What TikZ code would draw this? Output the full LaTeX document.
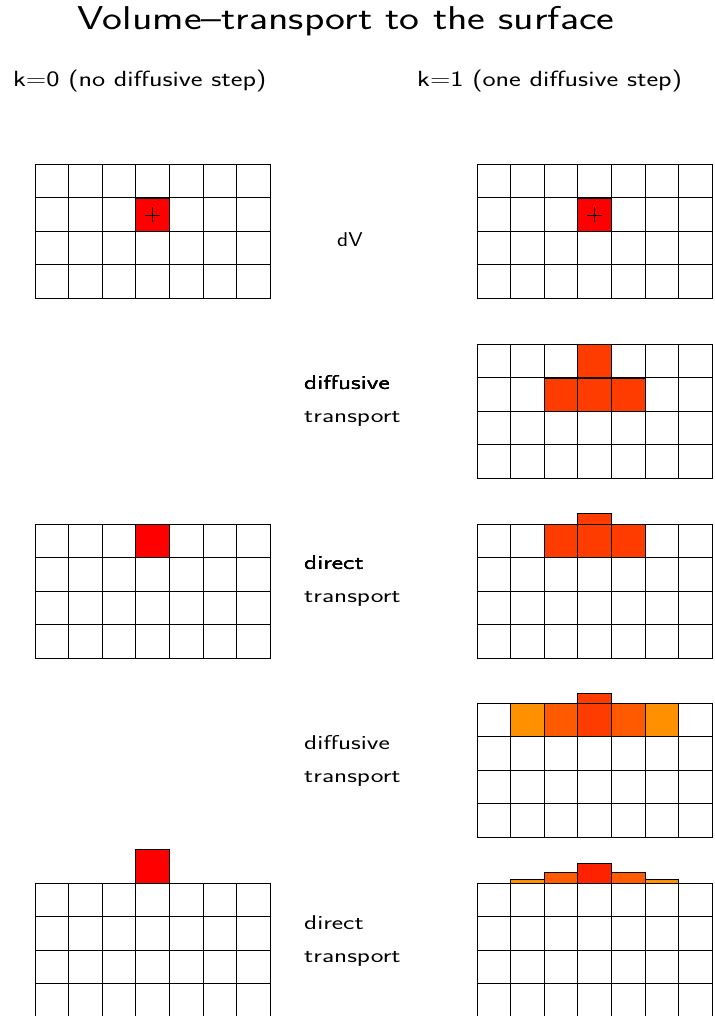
\documentclass[tikz,border=0pt]{standalone}
\usepackage{tikz}
\usetikzlibrary{positioning}

\definecolor{dvred}{HTML}{FF0000}
\definecolor{spreadred}{HTML}{FF3C00}
\definecolor{midorange}{HTML}{FF5A00}
\definecolor{lightorange}{HTML}{FF9000}
\definecolor{surfred}{HTML}{FF2200}

\def\cellsz{33.6}
% 7x4 box of cells, top left corner at (#1,#2)
\newcommand{\cellgrid}[2]{%
  \foreach \i in {0,...,6}
    \foreach \j in {0,...,3}
      \draw[gridline] ({#1+\i*\cellsz},{#2+\j*\cellsz}) rectangle ++(\cellsz,\cellsz);
}
% one coloured cell: colour, grid x, column, top y
\newcommand{\paintcell}[4]{%
  \filldraw[gridline,fill=#1] ({#2+#3*\cellsz},#4) rectangle ++(\cellsz,\cellsz);
}
% column sitting on the surface: colour, grid x, column, surface y, height
\newcommand{\surfcol}[5]{%
  \filldraw[gridline,fill=#1] ({#2+#3*\cellsz},#4) rectangle ++(\cellsz,-#5);
}
% wide lettering
\newcommand{\widetxt}[2]{\scalebox{#1}[1]{#2}}

\begin{document}
\begin{tikzpicture}[x=1pt, y=-1pt,
    gridline/.style={draw=black, line width=0.8pt},
    plusline/.style={draw=black, line width=0.6pt},
    title/.style={font=\sffamily\fontsize{33}{38}\selectfont, inner sep=0pt, anchor=base},
    header/.style={font=\sffamily\fontsize{22}{26}\selectfont, inner sep=0pt, anchor=base west},
    step label/.style={font=\sffamily\fontsize{20}{24}\selectfont, inner sep=0pt, anchor=base west}]
  \useasboundingbox[fill=white] (0,0) rectangle (714,1016);

  \node[title] (ttl) at (346,30) {\widetxt{1.28}{Volume--transport to the surface}};
  \node[header] (left) at (13,87) {\widetxt{1.27}{k=0 (no diffusive step)}};
  \node[header] (right) at (417,87) {\widetxt{1.27}{k=1 (one diffusive step)}};

  % panel 1: the volume dV
  \cellgrid{35}{164}
  \cellgrid{477}{164}
  \paintcell{dvred}{35}{3}{198}
  \paintcell{dvred}{477}{3}{198}
  \foreach \gx in {35,477} {
    \draw[plusline] ({\gx+3.5*\cellsz-7.5},215) -- ++(15,0);
    \draw[plusline] ({\gx+3.5*\cellsz},207.5) -- ++(0,15);
  }
  \node[step label] (dv) at (337,247) {\widetxt{1.15}{dV}};

  % panel 2: diffusive transport
  \cellgrid{477}{344}
  \paintcell{spreadred}{477}{3}{344}
  \foreach \c in {2,3,4}
    \paintcell{spreadred}{477}{\c}{378}
  \node[step label] (diff1) at (304,389) {\widetxt{1.35}{diffusive}};
  \node[step label] (tr1) at (304,422) {\widetxt{1.35}{transport}};

  % panel 3: direct transport
  \cellgrid{35}{524}
  \paintcell{dvred}{35}{3}{524}
  \cellgrid{477}{524}
  \foreach \c in {2,3,4}
    \paintcell{spreadred}{477}{\c}{524}
  \surfcol{spreadred}{477}{3}{524}{11}
  \node[step label] (dir1) at (304,569) {\widetxt{1.35}{direct}};
  \node[step label] (tr2) at (304,602) {\widetxt{1.35}{transport}};

  % panel 4: diffusive transport
  \cellgrid{477}{703}
  \paintcell{lightorange}{477}{1}{703}
  \paintcell{midorange}{477}{2}{703}
  \paintcell{spreadred}{477}{3}{703}
  \paintcell{midorange}{477}{4}{703}
  \paintcell{lightorange}{477}{5}{703}
  \surfcol{spreadred}{477}{3}{703}{10}
  \node[step label] (diff2) at (304,749) {\widetxt{1.35}{diffusive}};
  \node[step label] (tr3) at (304,782) {\widetxt{1.35}{transport}};

  % panel 5: direct transport to the surface
  \cellgrid{35}{883}
  \surfcol{dvred}{35}{3}{883}{33.6}
  \cellgrid{477}{883}
  \surfcol{lightorange}{477}{1}{883}{4}
  \surfcol{midorange}{477}{2}{883}{11}
  \surfcol{surfred}{477}{3}{883}{20}
  \surfcol{midorange}{477}{4}{883}{11}
  \surfcol{lightorange}{477}{5}{883}{4}
  \node[step label] (dir2) at (304,929) {\widetxt{1.35}{direct}};
  \node[step label] (tr4) at (304,962) {\widetxt{1.35}{transport}};
\end{tikzpicture}
\end{document}
